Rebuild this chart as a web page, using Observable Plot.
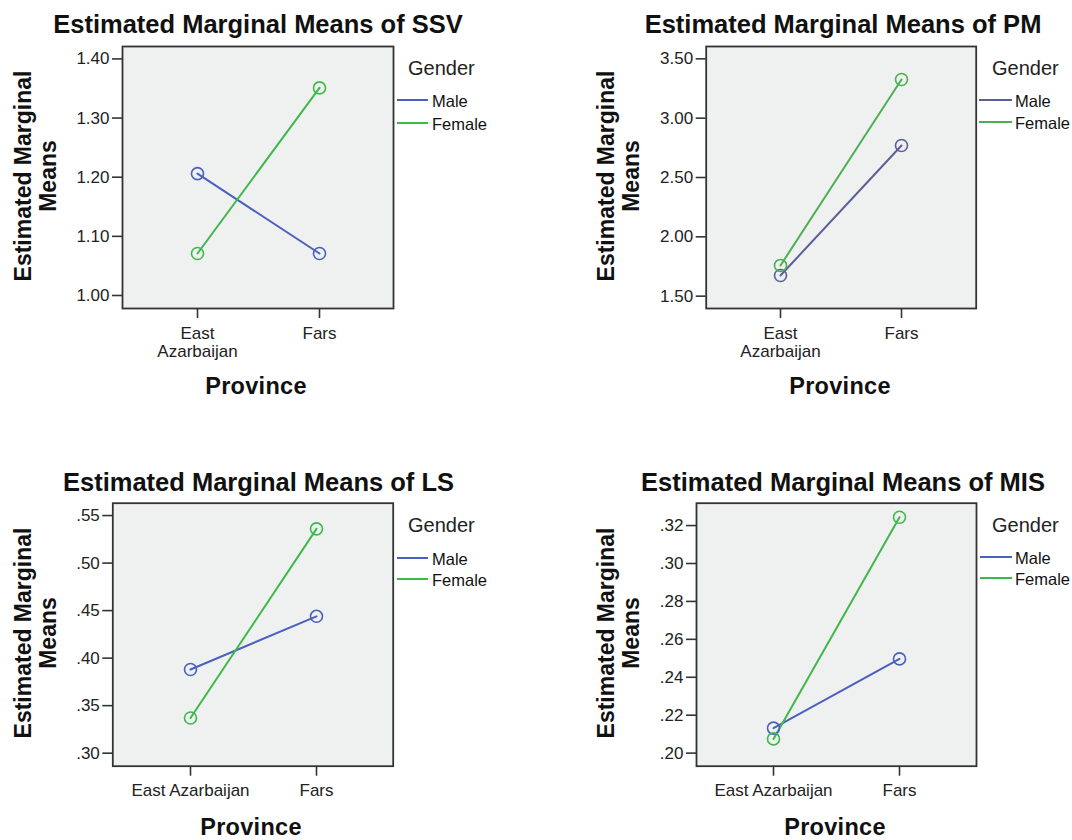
<!DOCTYPE html>
<html>
<head>
<meta charset="utf-8">
<script src="https://cdn.jsdelivr.net/npm/d3@7"></script>
<script src="https://cdn.jsdelivr.net/npm/@observablehq/plot@0.6"></script>
<style>
  body { margin: 0; background: #fff; }
  #page { position: relative; width: 1072px; height: 840px; overflow: hidden; font-family: "Liberation Sans", Arial, sans-serif; color: #111; }
  .panel { position: absolute; }
  .title { position: absolute; font-weight: bold; font-size: 25.5px; white-space: nowrap; transform: translate(-50%, -50%); line-height: 1; }
  .xlab { position: absolute; font-weight: bold; font-size: 23.5px; white-space: nowrap; transform: translate(-50%, -50%); line-height: 1; letter-spacing: 0.3px; }
  .ylab { position: absolute; font-weight: bold; font-size: 23px; white-space: nowrap; text-align: center; line-height: 25px; transform: translate(-50%, -50%) rotate(-90deg); }
  .lg-title { position: absolute; font-size: 20px; transform: translateY(-50%); line-height: 1; color: #222; }
  .lg-line { position: absolute; height: 0; border-top: 2px solid; transform: translateY(-1px); }
  .lg-text { position: absolute; font-size: 16.5px; transform: translateY(-50%); line-height: 1; color: #111; }
</style>
</head>
<body>
<div id="page"></div>
<script>
// ---- data ----
const provinces = ["East Azarbaijan", "Fars"];
const genders = ["Male", "Female"];

const ssvMale = [1.206, 1.071];
const ssvFemale = [1.071, 1.351];
const ssvTicks = [1.0, 1.1, 1.2, 1.3, 1.4];

const pmMale = [1.674, 2.770];
const pmFemale = [1.759, 3.326];
const pmTicks = [1.5, 2.0, 2.5, 3.0, 3.5];

const lsMale = [0.388, 0.444];
const lsFemale = [0.337, 0.536];
const lsTicks = [0.30, 0.35, 0.40, 0.45, 0.50, 0.55];

const misMale = [0.2132, 0.2497];
const misFemale = [0.2075, 0.3244];
const misTicks = [0.20, 0.22, 0.24, 0.26, 0.28, 0.30, 0.32];

const titles = ["Estimated Marginal Means of SSV", "Estimated Marginal Means of PM",
                "Estimated Marginal Means of LS", "Estimated Marginal Means of MIS"];
const yLabel = "Estimated Marginal<br>Means";
const xLabel = "Province";
const legendTitle = "Gender";

const page = document.getElementById("page");

function rows(male, female) {
  const out = [];
  provinces.forEach((p, i) => {
    out.push({province: p, gender: genders[0], value: male[i]});
    out.push({province: p, gender: genders[1], value: female[i]});
  });
  return out;
}

const fmt2 = d3.format(".2f");
const fmtLead = d => fmt2(d).replace(/^0/, "");

const panels = [
  {left: 0, top: 0, mL: 122, mR: 143, mT: 46, mB: 112, domain: [0.978, 1.421], ticks: ssvTicks, fmt: fmt2,
   male: ssvMale, female: ssvFemale, wrap: true, colors: ["#4a60be", "#3fb84b"], padX: 8,
   title: [258, 25], ylab: [35.5, 176], xlab: [256, 387],
   lg: {tx: 408, ty: 68, lx: 397, lw: 31, tx2: 432, y1: 99.5, y2: 122.5}},
  {left: 536, top: 0, mL: 169.7, mR: 96.3, mT: 46, mB: 112, domain: [1.396, 3.604], ticks: pmTicks, fmt: fmt2,
   male: pmMale, female: pmFemale, wrap: true, colors: ["#5a5f98", "#4cb050"], padX: 8,
   title: [843, 25], ylab: [619, 176], xlab: [840, 387],
   lg: {tx: 992, ty: 68, lx: 979, lw: 33, tx2: 1015, y1: 99.5, y2: 122}},
  {left: 0, top: 420, mL: 112.3, mR: 143.3, mT: 82.7, mB: 74.3, domain: [0.2863, 0.563], ticks: lsTicks, fmt: fmtLead,
   male: lsMale, female: lsFemale, wrap: false, colors: ["#4a60be", "#3fb84b"], padX: 7,
   title: [258.5, 482.5], ylab: [35.5, 633], xlab: [251, 828],
   lg: {tx: 408, ty: 525, lx: 397, lw: 31, tx2: 432, y1: 558, y2: 579}},
  {left: 536, top: 420, mL: 160, mR: 96, mT: 82.7, mB: 74.3, domain: [0.1931, 0.3318], ticks: misTicks, fmt: fmtLead,
   male: misMale, female: misFemale, wrap: false, colors: ["#4a60be", "#3fb84b"], padX: 7,
   title: [843, 482.5], ylab: [619, 633], xlab: [835, 828],
   lg: {tx: 992, ty: 525, lx: 980, lw: 32, tx2: 1015, y1: 557, y2: 578}}
];

panels.forEach((p, idx) => {
  const data = rows(p.male, p.female);
  const chart = Plot.plot({
    width: 536, height: 420,
    marginLeft: p.mL, marginRight: p.mR, marginTop: p.mT, marginBottom: p.mB,
    style: {fontFamily: '"Liberation Sans", Arial, sans-serif', fontSize: "17px", color: "#222", background: "transparent", overflow: "visible"},
    x: {type: "point", domain: provinces, padding: 0.61, axis: null},
    y: {domain: p.domain, axis: null},
    color: {domain: genders, range: p.colors},
    marks: [
      Plot.frame({fill: "#eff1f0", stroke: "none"}),
      Plot.axisY({ticks: p.ticks, tickFormat: p.fmt, tickSize: 10, tickPadding: 3, label: null, strokeWidth: 1.6, stroke: "#333", fill: "#222"}),
      Plot.axisX({tickSize: 10, tickPadding: p.padX, label: null, strokeWidth: 1.6, stroke: "#333", fill: "#222",
                  tickFormat: d => p.wrap ? d.replace(" ", "\n") : d, lineHeight: 1.05}),
      Plot.line(data, {x: "province", y: "value", z: "gender", stroke: "gender", strokeWidth: 2}),
      Plot.dot(data, {x: "province", y: "value", stroke: "gender", r: 6, strokeWidth: 1.6, fill: "none"}),
      Plot.frame({stroke: "#333", strokeWidth: 1.8, fill: "none"})
    ]
  });
  const wrap = document.createElement("div");
  wrap.className = "panel";
  wrap.style.left = p.left + "px";
  wrap.style.top = p.top + "px";
  wrap.appendChild(chart);
  page.appendChild(wrap);

  const add = (cls, html, x, y, extra) => {
    const el = document.createElement("div");
    el.className = cls;
    el.innerHTML = html;
    el.style.left = x + "px";
    el.style.top = y + "px";
    if (extra) Object.assign(el.style, extra);
    page.appendChild(el);
    return el;
  };
  add("title", titles[idx], p.title[0], p.title[1]);
  add("ylab", yLabel, p.ylab[0], p.ylab[1]);
  add("xlab", xLabel, p.xlab[0], p.xlab[1]);
  add("lg-title", legendTitle, p.lg.tx, p.lg.ty);
  add("lg-line", "", p.lg.lx, p.lg.y1, {width: p.lg.lw + "px", borderTopColor: p.colors[0]});
  add("lg-line", "", p.lg.lx, p.lg.y2, {width: p.lg.lw + "px", borderTopColor: p.colors[1]});
  add("lg-text", genders[0], p.lg.tx2, p.lg.y1 + 1);
  add("lg-text", genders[1], p.lg.tx2, p.lg.y2 + 1);
});
</script>
</body>
</html>
